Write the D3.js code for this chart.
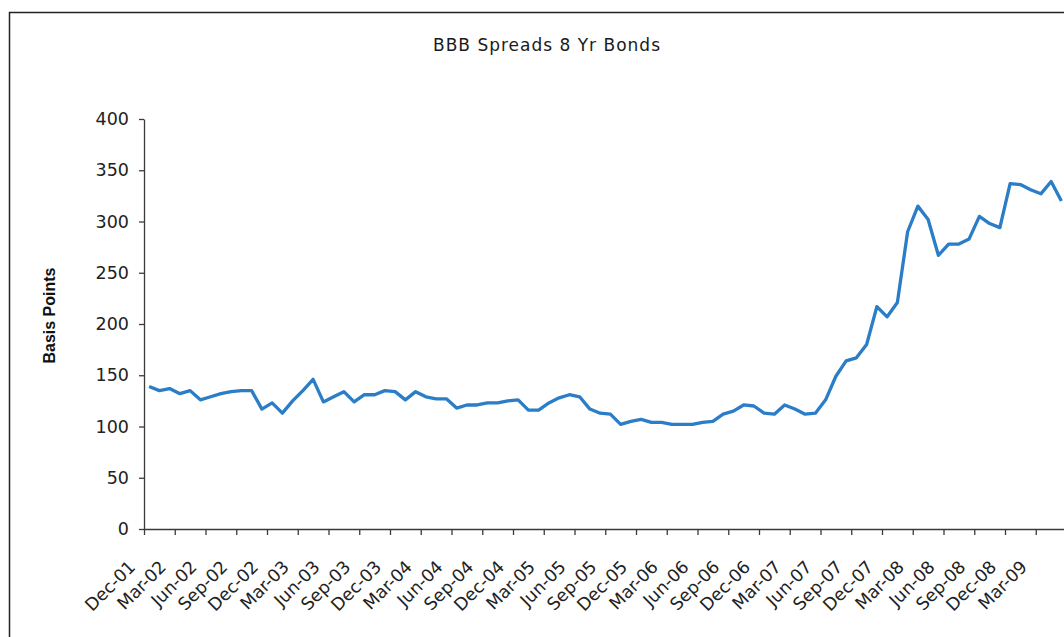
<!DOCTYPE html>
<html>
<head>
<meta charset="utf-8">
<script src="https://cdn.jsdelivr.net/npm/d3@7"></script>
<style>
  html, body { margin: 0; padding: 0; background: #ffffff; }
  svg { display: block; }
</style>
</head>
<body>
<svg id="chart" width="1064" height="637"></svg>
<script>
const chartTitle = "BBB Spreads 8 Yr Bonds";
const yAxisTitle = "Basis Points";

const months = [
  "Dec-01",
  "Jan-02","Feb-02","Mar-02","Apr-02","May-02","Jun-02","Jul-02","Aug-02","Sep-02","Oct-02","Nov-02","Dec-02",
  "Jan-03","Feb-03","Mar-03","Apr-03","May-03","Jun-03","Jul-03","Aug-03","Sep-03","Oct-03","Nov-03","Dec-03",
  "Jan-04","Feb-04","Mar-04","Apr-04","May-04","Jun-04","Jul-04","Aug-04","Sep-04","Oct-04","Nov-04","Dec-04",
  "Jan-05","Feb-05","Mar-05","Apr-05","May-05","Jun-05","Jul-05","Aug-05","Sep-05","Oct-05","Nov-05","Dec-05",
  "Jan-06","Feb-06","Mar-06","Apr-06","May-06","Jun-06","Jul-06","Aug-06","Sep-06","Oct-06","Nov-06","Dec-06",
  "Jan-07","Feb-07","Mar-07","Apr-07","May-07","Jun-07","Jul-07","Aug-07","Sep-07","Oct-07","Nov-07","Dec-07",
  "Jan-08","Feb-08","Mar-08","Apr-08","May-08","Jun-08","Jul-08","Aug-08","Sep-08","Oct-08","Nov-08","Dec-08",
  "Jan-09","Feb-09","Mar-09","Apr-09","May-09"
];

const spreads = [
  139,
  135,137,132,135,126,129,132,134,135,135,117,123,
  113,125,135,146,124,129,134,124,131,131,135,134,
  126,134,129,127,127,118,121,121,123,123,125,126,
  116,116,123,128,131,129,117,113,112,102,105,107,
  104,104,102,102,102,104,105,112,115,121,120,113,
  112,121,117,112,113,126,149,164,167,180,217,207,
  221,290,315,302,267,278,278,283,305,298,294,337,
  336,331,327,339,320
];

const tickLabels = [
  "Dec-01","Mar-02","Jun-02","Sep-02","Dec-02","Mar-03","Jun-03","Sep-03","Dec-03",
  "Mar-04","Jun-04","Sep-04","Dec-04","Mar-05","Jun-05","Sep-05","Dec-05",
  "Mar-06","Jun-06","Sep-06","Dec-06","Mar-07","Jun-07","Sep-07","Dec-07",
  "Mar-08","Jun-08","Sep-08","Dec-08","Mar-09"
];

const yTicks = [0, 50, 100, 150, 200, 250, 300, 350, 400];

const svg = d3.select("#chart");
const axisColor = "#3a3a3a";
const labelFont = "'DejaVu Sans', sans-serif";

// outer frame (extends beyond the visible area)
svg.append("rect")
  .attr("x", 9.5).attr("y", 12.5)
  .attr("width", 1100).attr("height", 700)
  .attr("fill", "none")
  .attr("stroke", "#222")
  .attr("stroke-width", 1.5);

const x = d3.scaleBand().domain(months).range([144, 1066.5]).paddingInner(0).paddingOuter(0);
const xIdx = d3.scaleLinear().domain([0, months.length]).range(x.range());
const y = d3.scaleLinear().domain([0, 400]).range([529, 119]);

// title
svg.append("text")
  .attr("x", 547).attr("y", 51)
  .attr("text-anchor", "middle")
  .style("font-family", labelFont)
  .style("font-size", "17px")
  .style("letter-spacing", "1px")
  .attr("fill", "#1a1a1a")
  .text(chartTitle);

// y axis title
svg.append("text")
  .attr("transform", "translate(55,315.5) rotate(-90)")
  .attr("text-anchor", "middle")
  .style("font-family", "'Liberation Sans', Arial, sans-serif")
  .style("font-weight", "bold")
  .style("font-size", "16px")
  .attr("fill", "#111")
  .text(yAxisTitle);

// y axis
const yAxis = svg.append("g")
  .attr("transform", "translate(144,0)")
  .call(d3.axisLeft(y).tickValues(yTicks).tickSize(5).tickSizeOuter(0).tickPadding(10));
yAxis.select(".domain").attr("stroke", axisColor).attr("stroke-width", 1.3);
yAxis.selectAll(".tick line").attr("stroke", axisColor).attr("stroke-width", 1.3);
yAxis.selectAll(".tick text")
  .style("font-family", labelFont)
  .style("font-size", "17.5px")
  .attr("fill", "#222");

// x axis
const xAxis = svg.append("g")
  .attr("transform", "translate(0,529)")
  .call(d3.axisBottom(xIdx)
    .tickValues(d3.range(0, months.length, 3))
    .tickFormat((d, i) => tickLabels[i])
    .tickSize(6).tickSizeOuter(0));
xAxis.select(".domain").attr("stroke", axisColor).attr("stroke-width", 1.3);
xAxis.selectAll(".tick line").attr("stroke", axisColor).attr("stroke-width", 1.3);
xAxis.selectAll(".tick text")
  .attr("x", 0).attr("y", 0).attr("dy", 0)
  .attr("text-anchor", "end")
  .attr("transform", "translate(-8,39) rotate(-45)")
  .style("font-family", labelFont)
  .style("font-size", "17.5px")
  .attr("fill", "#222");

// line
const line = d3.line()
  .x((d, i) => x(months[i]) + x.bandwidth() / 2)
  .y(d => y(d));

svg.append("path")
  .datum(spreads)
  .attr("d", line)
  .attr("fill", "none")
  .attr("stroke", "#2a7dc6")
  .attr("stroke-width", 3.3)
  .attr("stroke-linejoin", "round")
  .attr("stroke-linecap", "butt");
</script>
</body>
</html>
